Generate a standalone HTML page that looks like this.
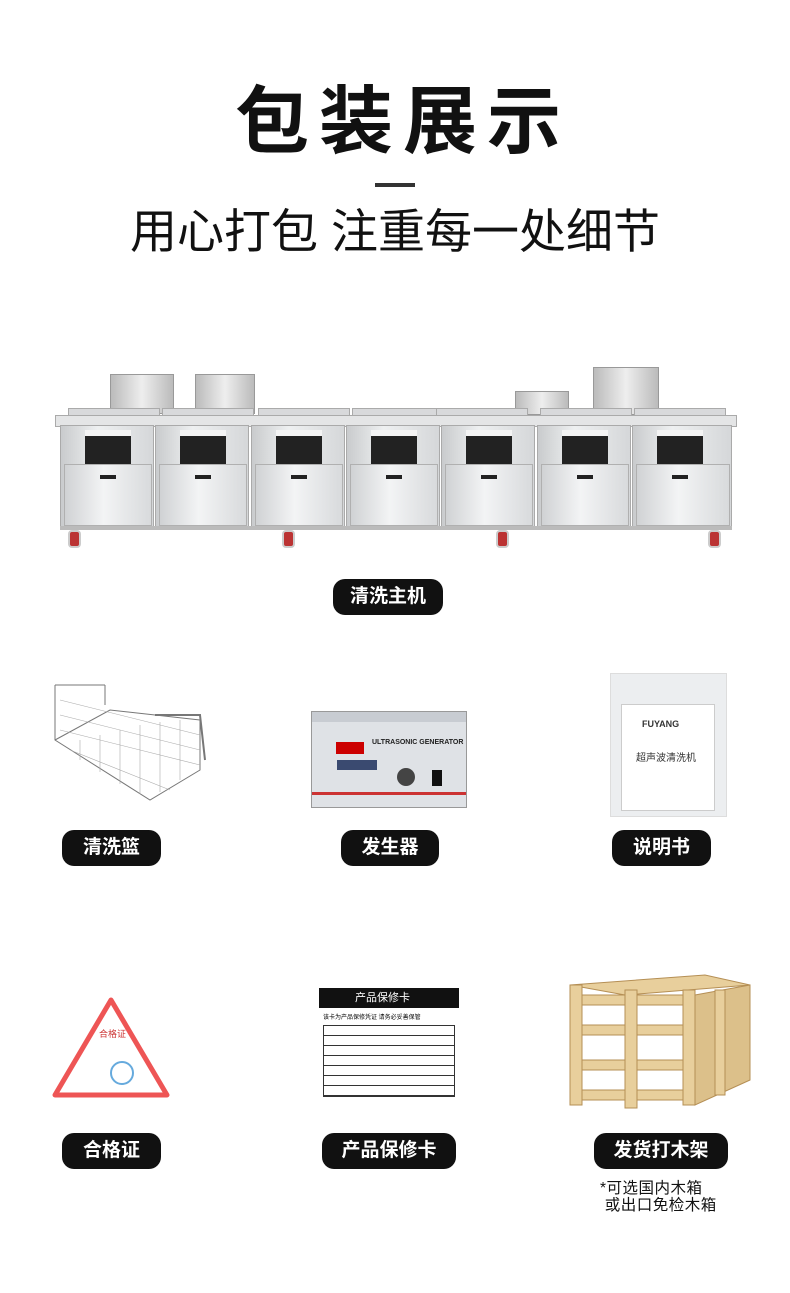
<!DOCTYPE html><html><head><meta charset="utf-8"><style>
body{margin:0;width:790px;height:1293px;background:#fff;position:relative;overflow:hidden;font-family:"Liberation Sans","Noto Sans CJK SC",sans-serif}
.a{position:absolute}
.pill{position:absolute;background:#111;color:#fff;font-weight:bold;font-size:19px;height:36px;line-height:36px;border-radius:12px;text-align:center}
.mod{position:absolute;top:425px;width:94px;height:102px;background:linear-gradient(90deg,#c9cbcd,#eef0f1 40%,#d5d7d9);border:1px solid #aaa;box-sizing:border-box}
.pan{position:absolute;left:24px;top:4px;width:46px;height:28px;background:#222;border-top:6px solid #f4f4f4}
.dr{position:absolute;left:3px;top:38px;width:86px;height:60px;background:linear-gradient(90deg,#d0d2d4,#f3f4f5 45%,#d8dadc);border:1px solid #b0b0b0}
.dr i{position:absolute;left:35px;top:10px;width:16px;height:4px;background:#222}
.lid{position:absolute;top:408px;width:90px;height:8px;background:#d8d9db;border:1px solid #aaa}
.wh{position:absolute;top:530px;width:9px;height:14px;background:#b33;border-radius:4px;border:2px solid #ccc}
</style></head><body>
<div class="a" style="left:8px;width:790px;top:74px;text-align:center;font-size:74px;font-weight:bold;letter-spacing:10px;color:#111;line-height:96px">包装展示</div>
<div class="a" style="left:375px;top:183px;width:40px;height:4px;background:#333"></div>
<div class="a" style="left:0;width:790px;top:203px;text-align:center;font-size:47px;color:#111;line-height:58px">用心打包 注重每一处细节</div>

<!-- machine -->
<div class="a" style="left:110px;top:374px;width:62px;height:38px;background:linear-gradient(90deg,#bbb,#eee,#bbb);border:1px solid #999"></div>
<div class="a" style="left:195px;top:374px;width:58px;height:38px;background:linear-gradient(90deg,#bbb,#eee,#bbb);border:1px solid #999"></div>
<div class="a" style="left:515px;top:391px;width:52px;height:22px;background:linear-gradient(90deg,#bbb,#eee,#bbb);border:1px solid #999"></div>
<div class="a" style="left:593px;top:367px;width:64px;height:46px;background:linear-gradient(90deg,#bbb,#eee,#bbb);border:1px solid #999"></div>
<div class="lid" style="left:68px"></div><div class="lid" style="left:162px"></div><div class="lid" style="left:258px"></div><div class="lid" style="left:352px"></div><div class="lid" style="left:436px"></div><div class="lid" style="left:540px"></div><div class="lid" style="left:634px"></div>
<div class="a" style="left:55px;top:415px;width:680px;height:10px;background:#e4e5e6;border:1px solid #aaa"></div>
<div class="mod" style="left:60px"><div class="pan"></div><div class="dr"><i></i></div></div>
<div class="mod" style="left:155px"><div class="pan"></div><div class="dr"><i></i></div></div>
<div class="mod" style="left:251px"><div class="pan"></div><div class="dr"><i></i></div></div>
<div class="mod" style="left:346px"><div class="pan"></div><div class="dr"><i></i></div></div>
<div class="mod" style="left:441px"><div class="pan"></div><div class="dr"><i></i></div></div>
<div class="mod" style="left:537px"><div class="pan"></div><div class="dr"><i></i></div></div>
<div class="mod" style="left:632px;width:100px"><div class="pan"></div><div class="dr" style="width:92px"><i></i></div></div>
<div class="a" style="left:60px;top:526px;width:672px;height:4px;background:#bbb"></div>
<div class="wh" style="left:68px"></div><div class="wh" style="left:282px"></div><div class="wh" style="left:496px"></div><div class="wh" style="left:708px"></div>
<div class="pill" style="left:333px;top:579px;width:110px">清洗主机</div>

<!-- basket -->
<svg class="a" style="left:50px;top:680px" width="160" height="125" viewBox="0 0 160 125">
<g fill="none" stroke="#777" stroke-width="1">
<path d="M5 5 L55 5 M5 5 L5 60 L100 120 L150 90 L150 40 M5 60 L60 30 L150 40 M55 5 L55 25"/>
<path d="M105 35 L150 35 L155 80" stroke-width="2"/>
</g>
<g stroke="#aaa" stroke-width=".6">
<path d="M10 20 L150 55 M10 35 L150 70 M10 50 L150 85 M20 70 L120 110 M30 60 L30 80 M50 55 L50 92 M70 50 L70 104 M90 45 L90 114 M110 42 L110 112 M130 40 L130 100"/>
</g></svg>
<div class="pill" style="left:62px;top:830px;width:99px">清洗篮</div>

<!-- generator -->
<div class="a" style="left:311px;top:711px;width:154px;height:95px;background:#dfe2e6;border:1px solid #999">
<div style="position:absolute;left:0;top:0;width:154px;height:10px;background:#c8ccd2"></div>
<div style="position:absolute;left:24px;top:30px;width:28px;height:12px;background:#c00"></div>
<div style="position:absolute;left:60px;top:27px;font-size:7px;font-weight:bold;color:#222;white-space:nowrap">ULTRASONIC GENERATOR</div>
<div style="position:absolute;left:25px;top:48px;width:40px;height:10px;background:#3a4a70"></div>
<div style="position:absolute;left:85px;top:56px;width:18px;height:18px;border-radius:50%;background:#444"></div>
<div style="position:absolute;left:120px;top:58px;width:10px;height:16px;background:#111"></div>
<div style="position:absolute;left:0;top:80px;width:154px;height:3px;background:#c33"></div>
</div>
<div class="pill" style="left:341px;top:830px;width:98px">发生器</div>

<!-- manual -->
<div class="a" style="left:610px;top:673px;width:115px;height:142px;background:#eceef0;border:1px solid #ddd">
<div style="position:absolute;left:10px;top:30px;width:92px;height:105px;background:#fff;border:1px solid #ccc;font-size:7px;color:#333">
<div style="margin:14px 0 0 20px;font-weight:bold;font-size:9px">FUYANG</div>
<div style="margin:20px 0 0 14px;font-size:10px">超声波清洗机</div></div></div>
<div class="pill" style="left:612px;top:830px;width:99px">说明书</div>

<!-- certificate -->
<svg class="a" style="left:50px;top:995px" width="122" height="105"><path d="M61 5 L117 100 L5 100 Z" fill="#fff" stroke="#e55" stroke-width="5" stroke-linejoin="round"/><text x="49" y="42" font-size="9" fill="#c33" font-family="Noto Sans CJK SC">合格证</text><circle cx="72" cy="78" r="11" fill="none" stroke="#6ad" stroke-width="2"/></svg>
<div class="pill" style="left:62px;top:1133px;width:99px">合格证</div>

<!-- card -->
<div class="a" style="left:319px;top:988px;width:140px;height:112px;background:#fff">
<div style="background:#111;color:#fff;font-size:11px;height:20px;line-height:20px;padding-left:36px">产品保修卡</div>
<div style="font-size:6px;margin:4px 0 0 4px">该卡为产品保修凭证 请务必妥善保管</div>
<div style="margin:4px 0 0 4px;width:130px;height:70px;border:1px solid #333;background:repeating-linear-gradient(#fff 0 9px,#333 9px 10px)"></div></div>
<div class="pill" style="left:322px;top:1133px;width:134px">产品保修卡</div>

<!-- crate -->
<svg class="a" style="left:565px;top:965px" width="192" height="148">
<g fill="#e8cf9c" stroke="#b58f55" stroke-width="1">
<path d="M5 20 L140 10 L185 20 L60 30 Z"/>
<rect x="5" y="30" width="125" height="10"/><rect x="5" y="60" width="125" height="10"/><rect x="5" y="95" width="125" height="10"/><rect x="5" y="125" width="125" height="10"/>
<rect x="5" y="20" width="12" height="120"/><rect x="60" y="25" width="12" height="118"/><rect x="118" y="25" width="12" height="115"/>
<path d="M130 30 L185 20 L185 115 L130 140 Z" fill="#dcc08a"/>
<rect x="150" y="25" width="10" height="105"/>
</g></svg>
<div class="pill" style="left:594px;top:1133px;width:134px">发货打木架</div>
<div class="a" style="left:600px;top:1180px;font-size:15.5px;line-height:17px;color:#111;letter-spacing:.5px">*可选国内木箱<br>&nbsp;或出口免检木箱</div>
</body></html>
